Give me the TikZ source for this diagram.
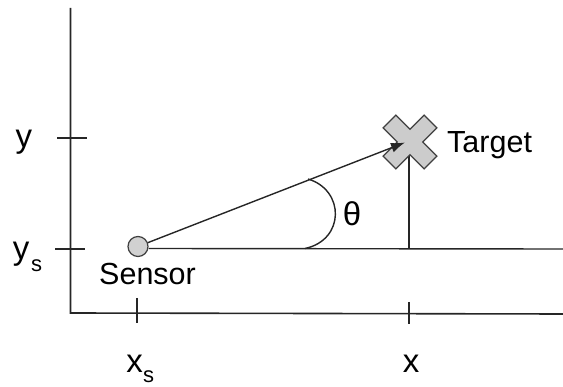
\documentclass[tikz,border=0pt]{standalone}
\usepackage{fontspec}
\setmainfont{Liberation Sans}
\usetikzlibrary{arrows.meta}
\begin{document}
\begin{tikzpicture}[x=1pt,y=-1pt,
  axisline/.style={line width=1.6pt, black!85},
  thinline/.style={line width=1.4pt, black!85},
  lbl/.style={anchor=base, inner sep=0pt, font=\fontsize{30.5}{35}\selectfont},
  axlbl/.style={anchor=base, inner sep=0pt, font=\fontsize{33}{38}\selectfont},
  sublbl/.style={anchor=base west, inner sep=0pt, font=\fontsize{22}{26}\selectfont},
  sensorstyle/.style={circle, minimum size=20pt, inner sep=0pt, fill=black!18, draw=black!75, line width=1.2pt},
  crossstyle/.style={fill=black!20, draw=black!75, line width=1.3pt, line join=miter}
]
\useasboundingbox (0,0) rectangle (563,387);
% axes
\coordinate (ytop) at (70.5,8);
\coordinate (origin) at (70.5,313);
\coordinate (xend) at (563,314);
\draw[axisline] (ytop) -- (origin) -- (xend);
% ticks
\coordinate (ty1) at (57,138);  \coordinate (ty2) at (87,138);
\coordinate (tys1) at (55,249); \coordinate (tys2) at (85,249);
\coordinate (txs1) at (137,298); \coordinate (txs2) at (137,323);
\coordinate (tx1) at (409,302);  \coordinate (tx2) at (409,324);
\draw[thinline] (ty1) -- (ty2);
\draw[thinline] (tys1) -- (tys2);
\draw[thinline] (txs1) -- (txs2);
\draw[thinline] (tx1) -- (tx2);
% axis labels
\node[axlbl] (ylab) at (24,148) {y};
\node[axlbl] (yslab) at (21,260) {y};
\node[sublbl] (yssub) at (31,272) {s};
\node[axlbl] (xslab) at (134.5,373) {x};
\node[sublbl] (xssub) at (143,383) {s};
\node[axlbl] (xlab) at (411,373) {x};
% sensor and target
\node[sensorstyle] (sensor) at (138,246.5) {};
\coordinate (tgt) at (410,142);
\coordinate (foot) at (409,248.5);
\coordinate (hend) at (563,249);
\draw[thinline] (sensor.east |- 0,248.5) -- (hend);
\draw[thinline] (409,150) -- (foot);
\begin{scope}[shift={(tgt)}, rotate=45]
  \draw[crossstyle] (9,-29) -- (9,-9) -- (29,-9) -- (29,9) -- (9,9) -- (9,29) -- (-9,29) -- (-9,9) -- (-29,9) -- (-29,-9) -- (-9,-9) -- (-9,-29) -- cycle;
\end{scope}
\coordinate (arrowend) at (405,142.5);
\draw[thinline, -{Latex[length=14pt,width=10pt]}] (sensor) -- (arrowend);
% angle arc
\coordinate (arcA) at (308,179);
\coordinate (arcB) at (305,248.5);
\draw[thinline] (arcA) .. controls (345,190) and (345,240) .. (arcB);
\node[anchor=base, inner sep=0pt, font=\fontsize{33}{38}\selectfont] (theta) at (352,226) {θ};
% labels
\node[lbl, anchor=base west] (target) at (447,153) {Target};
\node[lbl, anchor=base west] (sensorlab) at (99,285) {Sensor};
\end{tikzpicture}
\end{document}
